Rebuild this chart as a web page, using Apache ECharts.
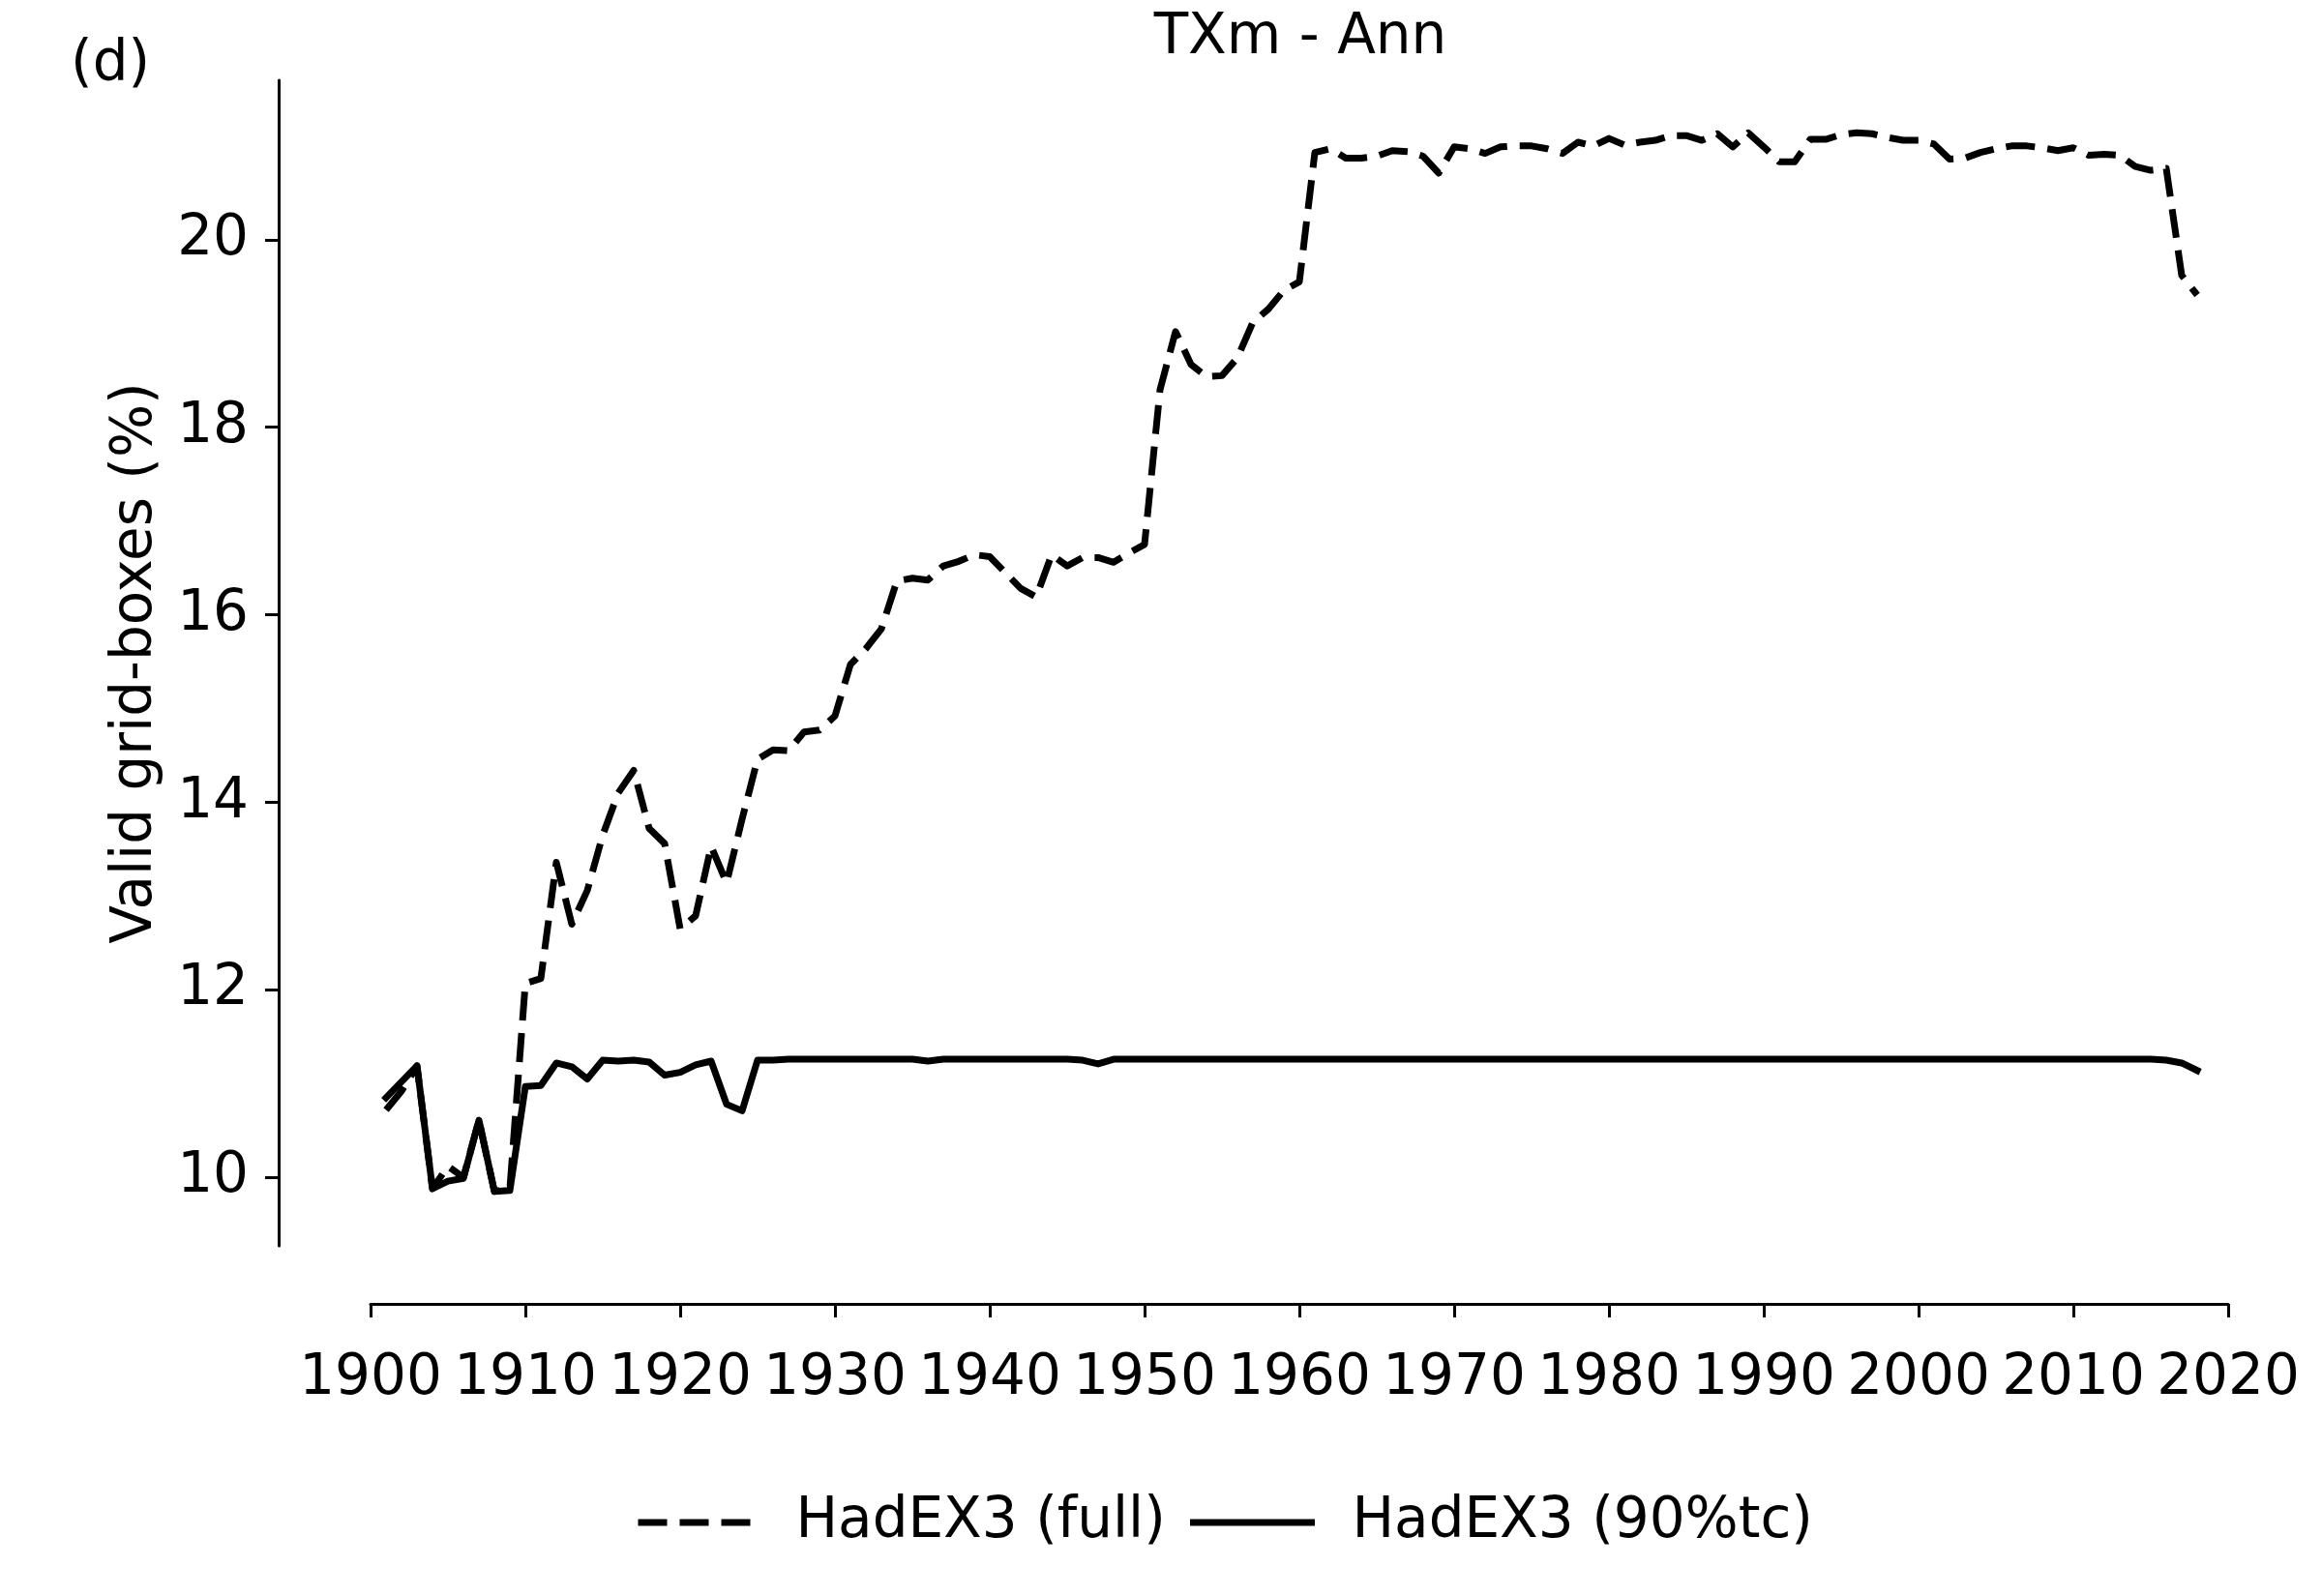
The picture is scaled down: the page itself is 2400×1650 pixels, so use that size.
<!DOCTYPE html>
<html>
<head>
<meta charset="utf-8">
<script src="https://cdn.jsdelivr.net/npm/echarts@6/dist/echarts.min.js"></script>
<style>
html,body{margin:0;padding:0;background:#fff;}
#chart{width:2400px;height:1650px;}
</style>
</head>
<body>
<div id="chart"></div>
<script>
var years = [];
for (var yr = 1901; yr <= 2018; yr++) years.push(yr);

var fullVals = [
  10.72, 10.92, 11.19, 9.88, 10.12, 10.00, 10.61, 9.85, 9.88, 12.07,
  12.12, 13.36, 12.70, 13.06, 13.65, 14.10, 14.34, 13.72, 13.56, 12.65,
  12.79, 13.53, 13.14, 13.82, 14.46, 14.56, 14.55, 14.75, 14.77, 14.92,
  15.47, 15.64, 15.85, 16.36, 16.39, 16.37, 16.52, 16.57, 16.64, 16.62,
  16.45, 16.28, 16.19, 16.64, 16.52, 16.61, 16.61, 16.56, 16.66, 16.75,
  18.40, 19.02, 18.67, 18.54, 18.55, 18.74, 19.12, 19.26, 19.46, 19.55,
  20.93, 20.97, 20.87, 20.87, 20.89, 20.95, 20.94, 20.89, 20.71, 20.99,
  20.97, 20.92, 20.99, 21.00, 21.00, 20.97, 20.92, 21.04, 21.00, 21.08,
  21.01, 21.04, 21.06, 21.11, 21.11, 21.06, 21.13, 20.99, 21.14, 20.99,
  20.83, 20.83, 21.07, 21.07, 21.12, 21.14, 21.13, 21.09, 21.06, 21.06,
  21.02, 20.86, 20.87, 20.93, 20.97, 21.00, 21.00, 20.98, 20.95, 20.98,
  20.90, 20.91, 20.90, 20.78, 20.74, 20.76, 19.62, 19.41
];

var tcVals = [
  10.85, 11.02, 11.19, 9.88, 9.96, 9.99, 10.61, 9.85, 9.86, 10.97,
  10.98, 11.22, 11.18, 11.05, 11.25, 11.24, 11.25, 11.23, 11.09, 11.12,
  11.20, 11.24, 10.78, 10.71, 11.25, 11.25, 11.26, 11.26, 11.26, 11.26,
  11.26, 11.26, 11.26, 11.26, 11.26, 11.24, 11.26, 11.26, 11.26, 11.26,
  11.26, 11.26, 11.26, 11.26, 11.26, 11.25, 11.21, 11.26, 11.26, 11.26,
  11.26, 11.26, 11.26, 11.26, 11.26, 11.26, 11.26, 11.26, 11.26, 11.26,
  11.26, 11.26, 11.26, 11.26, 11.26, 11.26, 11.26, 11.26, 11.26, 11.26,
  11.26, 11.26, 11.26, 11.26, 11.26, 11.26, 11.26, 11.26, 11.26, 11.26,
  11.26, 11.26, 11.26, 11.26, 11.26, 11.26, 11.26, 11.26, 11.26, 11.26,
  11.26, 11.26, 11.26, 11.26, 11.26, 11.26, 11.26, 11.26, 11.26, 11.26,
  11.26, 11.26, 11.26, 11.26, 11.26, 11.26, 11.26, 11.26, 11.26, 11.26,
  11.26, 11.26, 11.26, 11.26, 11.26, 11.25, 11.22, 11.14
];

var yTicks = [10, 12, 14, 16, 18, 20];
var seriesNames = ['HadEX3 (full)', 'HadEX3 (90%tc)'];
var titleText = 'TXm - Ann';
var panelText = '(d)';
var yName = 'Valid grid-boxes (%)';

var FONT = 'DejaVu Sans';
var FS = 58;
var DASH = [30, 13];
var LW = 7;

function pairs(vals) { return years.map(function (y, i) { return [y, vals[i]]; }); }

var chart = echarts.init(document.getElementById('chart'), null, {renderer: 'canvas'});
chart.setOption({
  animation: false,
  backgroundColor: '#ffffff',
  title: {
    text: titleText,
    left: 1344,
    top: 11,
    textAlign: 'center',
    padding: 0,
    textStyle: {fontFamily: FONT, fontSize: FS, fontWeight: 'normal', color: '#000'}
  },
  graphic: [{
    type: 'text', left: 73, top: 39,
    style: {text: panelText, fontFamily: FONT, fontSize: FS, fill: '#000'}
  }],
  legend: [{
    data: [seriesNames[0]],
    left: 656, top: 1545, padding: 0,
    itemWidth: 122, itemHeight: 20,
    lineStyle: {width: LW, type: DASH},
    itemStyle: {opacity: 0},
    textStyle: {fontFamily: FONT, fontSize: FS, color: '#000', padding: [0, 0, 0, 36]}
  }, {
    data: [seriesNames[1]],
    left: 1230, top: 1545, padding: 0,
    itemWidth: 122, itemHeight: 20,
    lineStyle: {width: LW},
    itemStyle: {opacity: 0},
    textStyle: {fontFamily: FONT, fontSize: FS, color: '#000', padding: [0, 0, 0, 37]}
  }],
  grid: {left: 383, right: 97, top: 83, bottom: 362, containLabel: false},
  xAxis: {
    type: 'value', min: 1900, max: 2020, interval: 10,
    offset: 60,
    axisLine: {show: true, lineStyle: {color: '#000', width: 3}},
    axisTick: {show: true, length: 14, inside: false, lineStyle: {color: '#000', width: 3}},
    axisLabel: {
      show: true, margin: 49, color: '#000', fontFamily: FONT, fontSize: FS,
      formatter: function (v) { return String(v); }
    },
    splitLine: {show: false}
  },
  yAxis: {
    type: 'value', min: 9.27, max: 21.7,
    offset: 95,
    name: yName, nameLocation: 'middle', nameGap: 118,
    nameTextStyle: {fontFamily: FONT, fontSize: FS, color: '#000'},
    axisLine: {show: true, lineStyle: {color: '#000', width: 3}},
    axisTick: {show: true, length: 14, inside: false, customValues: yTicks, lineStyle: {color: '#000', width: 3}},
    axisLabel: {
      show: true, margin: 31, color: '#000', fontFamily: FONT, fontSize: FS,
      customValues: yTicks,
      formatter: function (v) { return String(v); }
    },
    splitLine: {show: false}
  },
  series: [{
    name: seriesNames[0], type: 'line', data: pairs(fullVals),
    symbol: 'none', showSymbol: false,
    lineStyle: {color: '#000', width: LW, type: DASH, join: 'round', cap: 'butt'},
    itemStyle: {color: '#000'},
    z: 2
  }, {
    name: seriesNames[1], type: 'line', data: pairs(tcVals),
    symbol: 'none', showSymbol: false,
    lineStyle: {color: '#000', width: LW, type: 'solid', join: 'round', cap: 'square'},
    itemStyle: {color: '#000'},
    z: 3
  }]
});
</script>
</body>
</html>
